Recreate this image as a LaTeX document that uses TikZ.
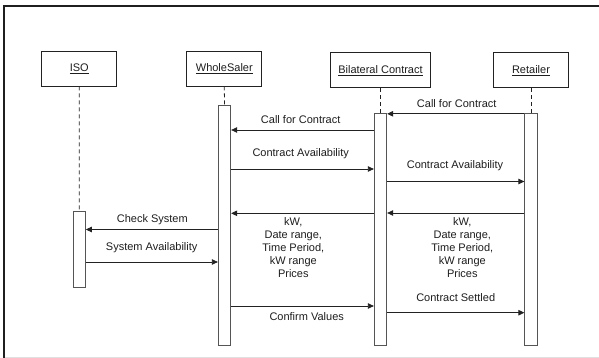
\documentclass[tikz,border=0pt]{standalone}
\usepackage{fontspec}
\setmainfont{Liberation Sans}
\usetikzlibrary{arrows.meta,calc}
\definecolor{ln}{HTML}{222222}
\definecolor{tx}{HTML}{1E1E1E}
\definecolor{actc}{HTML}{555555}
\begin{document}
\begin{tikzpicture}[x=1pt,y=-1pt,
  every node/.style={font=\fontsize{11}{13.2}\selectfont, text=tx},
  objbox/.style={draw=ln, line width=0.8pt, fill=white, minimum height=35pt, inner sep=0pt},
  actbox/.style={draw=actc, line width=0.8pt, fill=white, inner sep=0pt, minimum width=12.5pt},
  life/.style={draw=ln, line width=0.8pt, dash pattern=on 4pt off 3pt},
  msg/.style={draw=ln, line width=0.8pt, -{Triangle[width=5.5pt,length=6pt]}},
  lbl/.style={inner sep=0pt, align=center}
]
\useasboundingbox (0,0) rectangle (599,358);
\fill[white] (0,0) rectangle (599,358);
% frame
\draw[line width=2pt, color=black!88] (4,358) -- (4,6) -- (599,6);
\draw[line width=0.8pt, color=black!12] (5,357) -- (599,357);

% objects
\node[objbox, minimum width=75pt] (iso) at (79.3,68.5) {\underline{ISO}};
\node[objbox, minimum width=75pt] (ws) at (224.3,68.5) {\underline{WholeSaler}};
\node[objbox, minimum width=100.5pt] (bc) at (380.5,70.3) {\underline{Bilateral Contract}};
\node[objbox, minimum width=75.5pt] (rt) at (531,70.3) {\underline{Retailer}};

% activations
\node[actbox, minimum height=76pt] (isoA) at (79.2,249) {};
\node[actbox, minimum height=240.4pt] (wsA) at (224.5,225.5) {};
\node[actbox, minimum height=232.4pt] (bcA) at (380.5,229.5) {};
\node[actbox, minimum height=232.4pt] (rtA) at (531,229.5) {};

% lifelines
\draw[life] (iso.south) -- (isoA.north);
\draw[life] (ws.south) -- (wsA.north);
\draw[life] (bc.south) -- (bcA.north);
\draw[life] (rt.south) -- (rtA.north);

% message y levels
\coordinate (m1) at (0,113.8);
\coordinate (m2) at (0,130);
\coordinate (m3) at (0,169);
\coordinate (m4) at (0,181.5);
\coordinate (m5) at (0,213);
\coordinate (m6) at (0,213.3);
\coordinate (m7) at (0,229.5);
\coordinate (m8) at (0,262);
\coordinate (m9) at (0,306);
\coordinate (m10) at (0,312.7);

% messages
\draw[msg] (rtA.west |- m1) -- (bcA.east |- m1);
\draw[msg] (bcA.west |- m2) -- (wsA.east |- m2);
\draw[msg] (wsA.east |- m3) -- (bcA.west |- m3);
\draw[msg] (bcA.east |- m4) -- (rtA.west |- m4);
\draw[msg] (rtA.west |- m5) -- (bcA.east |- m5);
\draw[msg] (bcA.west |- m6) -- (wsA.east |- m6);
\draw[msg] (wsA.west |- m7) -- (isoA.east |- m7);
\draw[msg] (isoA.east |- m8) -- (wsA.west |- m8);
\draw[msg] (wsA.east |- m9) -- (bcA.west |- m9);
\draw[msg] (bcA.east |- m10) -- (rtA.west |- m10);

% labels
\node[lbl] (l1) at (456.7,103.3) {Call for Contract};
\node[lbl] (l2) at (300.7,120) {Call for Contract};
\node[lbl] (l3) at (300.7,154) {Contract Availability};
\node[lbl] (l4) at (455,165.7) {Contract Availability};
\node[lbl] (l5) at (462.3,247.5) {kW,\\Date range,\\Time Period,\\kW range\\Prices};
\node[lbl] (l6) at (293.3,247.5) {kW,\\Date range,\\Time Period,\\kW range\\Prices};
\node[lbl] (l7) at (152.3,220) {Check System};
\node[lbl] (l8) at (151.7,248) {System Availability};
\node[lbl] (l9) at (306.7,316.5) {Confirm Values};
\node[lbl] (l10) at (455.7,297.5) {Contract Settled};
\end{tikzpicture}
\end{document}
